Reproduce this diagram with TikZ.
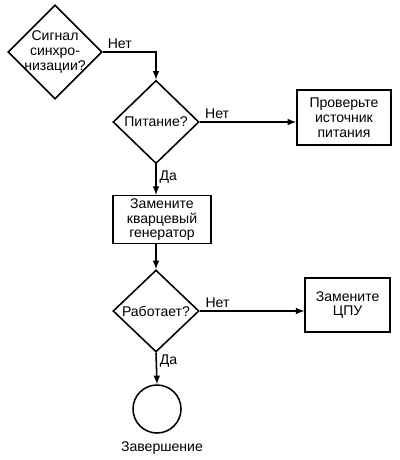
\documentclass[tikz,border=0pt]{standalone}
\usepackage{fontspec}
\setmainfont{Liberation Sans}
\usetikzlibrary{shapes.geometric}

\begin{document}
\begin{tikzpicture}[>=latex, line width=1.1pt, font=\fontsize{10}{10.5}\selectfont,
    decision/.style={draw, diamond, aspect=1, inner sep=0pt},
    block/.style={draw, rectangle, align=center, inner sep=2pt},
    finish/.style={draw, circle, inner sep=0pt, minimum size=1.2cm},
    answer/.style={inner sep=2pt}]
    \useasboundingbox (0,0) rectangle (10,-11.5);

    % Decisions
    \node[decision, minimum width=2.35cm, minimum height=2.35cm,
          label={[align=center]center:Сигнал\\синхро-\\низации?}] (sync) at (1.375,-1.3) {};
    \node[decision, minimum width=2.15cm, minimum height=2.08cm,
          label={center:Питание?}] (power) at (3.9,-3.05) {};
    \node[decision, minimum width=2.15cm, minimum height=2.05cm,
          label={center:Работает?}] (works) at (3.9,-7.775) {};

    % Blocks
    \node[block, minimum width=2.35cm, minimum height=1.375cm] (check) at (8.6,-2.94)
        {Проверьте\\источник\\питания};
    \node[block, minimum width=2.45cm, minimum height=1.125cm] (quartz) at (4.05,-5.49)
        {Замените\\кварцевый\\генератор};
    \node[block, minimum width=2.125cm, minimum height=1.35cm] (cpu) at (8.69,-7.625)
        {Замените\\ЦПУ};

    % End
    \node[finish] (stop) at (3.925,-10.225) {};
    \node (stoptext) at (4.05,-11.2) {Завершение};

    % Branches
    \draw[->] (sync.east) -| node[answer, above, pos=0.16] {Нет} (power.north);
    \draw[->] (power.east) -- node[answer, above, pos=0.18] {Нет} (power.east -| check.west);
    \draw[->] (power.south) -- node[answer, right, pos=0.42] {Да} (power.south |- quartz.north);
    \draw[->] (power.south |- quartz.south) -- (works.north);
    \draw[->] (works.east) -- node[answer, above, pos=0.17] {Нет} (works.east -| cpu.west);
    \draw[->] (works.south) -- node[answer, right, pos=0.25] {Да} (stop.north);
\end{tikzpicture}
\end{document}
